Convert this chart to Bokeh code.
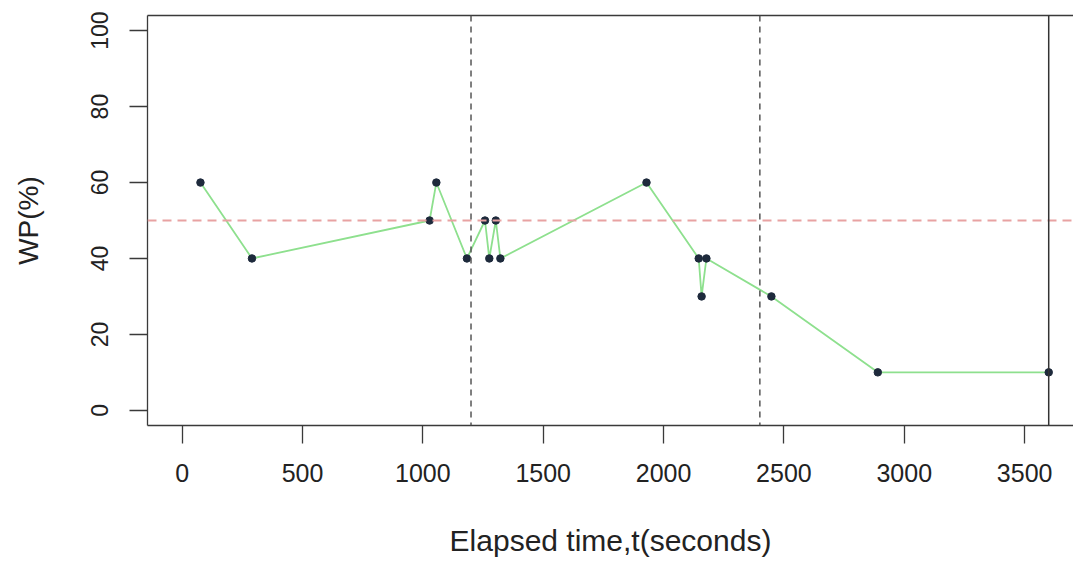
from bokeh.plotting import figure
from bokeh.models import Span, LinearAxis, FixedTicker, Range1d
from bokeh.embed import file_html
from bokeh.resources import INLINE

# ---- data ----
elapsed = [76, 290, 1028, 1056, 1183, 1258, 1276, 1303, 1322, 1929,
           2146, 2158, 2178, 2448, 2890, 3600]
wp = [60, 40, 50, 60, 40, 50, 40, 50, 40, 60, 40, 30, 40, 30, 10, 10]
x_ticks = [0, 500, 1000, 1500, 2000, 2500, 3000, 3500]
y_ticks = [0, 20, 40, 60, 80, 100]
period_marks = [1200, 2400]
game_end = 3600
reference_wp = 50
x_title = "Elapsed time,t(seconds)"
y_title = "WP(%)"

FONT = "Liberation Sans"
AX = "#3a3a3a"

p = figure(width=1073, height=569,
           x_range=Range1d(-144, 3703), y_range=Range1d(-4, 104),
           output_backend="svg", toolbar_location=None,
           min_border_left=147, min_border_right=0,
           min_border_top=15, min_border_bottom=144)
p.background_fill_color = "white"
p.border_fill_color = "white"
p.outline_line_color = None
p.grid.visible = False

for ax in (p.xaxis[0], p.yaxis[0]):
    ax.axis_line_color = AX
    ax.axis_line_width = 1.3
    ax.major_tick_line_color = AX
    ax.major_tick_line_width = 1.3
    ax.major_tick_out = 18
    ax.major_tick_in = 0
    ax.minor_tick_line_color = None
    ax.major_label_text_font = FONT
    ax.major_label_text_color = "#222222"
    ax.axis_label_text_font = FONT
    ax.axis_label_text_font_style = "normal"
    ax.axis_label_text_color = "#222222"

p.xaxis.ticker = FixedTicker(ticks=x_ticks)
p.yaxis.ticker = FixedTicker(ticks=y_ticks)
p.xaxis.major_label_text_font_size = "25px"
p.yaxis.major_label_text_font_size = "23px"
p.xaxis.major_label_standoff = 20
p.yaxis.major_label_standoff = 21
p.yaxis.major_label_orientation = "vertical"
p.yaxis.axis_label = y_title
p.yaxis.axis_label_text_font_size = "28px"
p.yaxis.axis_label_standoff = 45
p.xaxis.axis_label = x_title
p.xaxis.axis_label_text_font_size = "30px"
p.xaxis.axis_label_standoff = 39

top = LinearAxis(axis_line_color=AX, axis_line_width=1.3,
                 major_tick_line_color=None, minor_tick_line_color=None,
                 major_label_text_font_size="0px", ticker=FixedTicker(ticks=[]))
p.add_layout(top, "above")

# reference lines
p.add_layout(Span(location=reference_wp, dimension="width",
                  line_color="#E8A2A2", line_width=2, line_dash="9 6"))
for m in period_marks:
    p.add_layout(Span(location=m, dimension="height", line_color="#555555",
                      line_width=1.5, line_dash="6 5"))
p.add_layout(Span(location=game_end, dimension="height",
                  line_color="#333333", line_width=1.5))

p.line(elapsed, wp, line_color="#8EE08E", line_width=1.8)
p.scatter(elapsed, wp, size=7.5, fill_color="#1E2A3C", line_color="#1E2A3C")

open("out.html", "w").write(file_html(p, INLINE))
